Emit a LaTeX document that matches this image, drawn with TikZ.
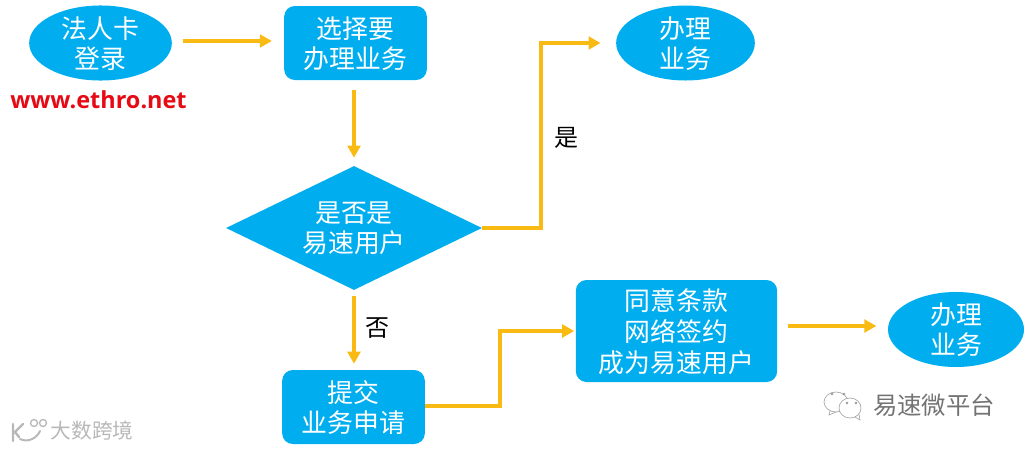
\documentclass[tikz,border=0pt]{standalone}
\usepackage{fontspec}
\setmainfont{Noto Sans CJK SC}
\newfontfamily\urlfont{Open Sans}
\usetikzlibrary{shapes.geometric,arrows.meta,positioning}
\definecolor{boxblue}{RGB}{0,174,239}
\definecolor{flowgold}{RGB}{250,186,20}
\definecolor{urlred}{RGB}{230,10,20}

\begin{document}
\begin{tikzpicture}[x=0.75pt, y=-0.75pt]
    \tikzset{
        oval/.style={
            ellipse, fill=boxblue, text=white, align=center, inner sep=0pt,
            minimum width=107pt, minimum height=55.5pt, text depth=1pt,
            font=\fontsize{19.4pt}{22.5pt}\selectfont
        },
        card/.style={
            fill=boxblue, text=white, align=center, inner sep=0pt,
            rounded corners=8pt, text depth=1pt,
            minimum width=107pt, minimum height=55.5pt,
            font=\fontsize{19.4pt}{22.5pt}\selectfont
        },
        choice/.style={
            diamond, aspect=2, fill=boxblue, text=white, align=center, inner sep=0pt,
            minimum width=192pt, minimum height=93pt, text depth=1pt,
            font=\fontsize{19.4pt}{22.5pt}\selectfont
        },
        flow/.style={
            draw=flowgold, line width=3pt,
            -{Triangle[length=9pt,width=9.5pt]}
        },
        tag/.style={font=\fontsize{18pt}{20pt}\selectfont},
        mark text/.style={text=black!55},
    }
    \useasboundingbox (0,0) rectangle (1029,450);

    % ==== Top row ====
    \node[oval] (login) at (100.5,43) {法人卡\\登录};
    \node[card] (select) at (355.5,43) {选择要\\办理业务};
    \node[oval, minimum width=104pt] (doneA) at (685.5,43) {办理\\业务};
    \node[inner sep=0pt, text=urlred, font=\urlfont\bfseries\fontsize{17.6pt}{19pt}\selectfont] (site) at (98.5,100) {www.ethro.net};

    % ==== Middle ====
    \node[choice] (judge) at (354,228) {是否是\\易速用户};
    \coordinate (bendA) at (541,228);

    % ==== Bottom row ====
    \node[card] (apply) at (353.5,407) {提交\\业务申请};
    \node[card, minimum width=151pt, minimum height=76.5pt,
        font=\fontsize{19.4pt}{23.25pt}\selectfont] (agree) at (676.5,331) {同意条款\\网络签约\\成为易速用户};
    \node[oval, minimum width=102pt, minimum height=56pt] (doneB) at (956,329.5) {办理\\业务};
    \coordinate (bendB) at (500,406);

    % ==== Arrows ====
    \draw[flow, shorten <=8.25pt, shorten >=9pt] (login.east |- 0,41) -- (select.west |- 0,41);
    \draw[flow, shorten <=7.5pt, shorten >=6pt] (judge |- select.south) -- (judge);
    \draw[flow, shorten >=11.5pt] (judge.east) -- (bendA) |- (doneA.west);
    \draw[flow, shorten <=4.5pt, shorten >=4.5pt] (judge) -- (judge |- apply.north);
    \draw[flow, shorten >=1pt] (apply.east |- bendB) -- (bendB) |- (agree.west);
    \draw[flow, shorten <=8.25pt, shorten >=8.5pt] (agree.east |- 0,326) -- (doneB.west |- 0,326);

    % ==== Branch labels ====
    \node[tag] (yes) at (566,138) {是};
    \node[tag] (no) at (377,328) {否};

    % ==== Watermarks ====
    \node[mark text, font=\fontsize{18.3pt}{20pt}\selectfont] (brand) at (934,405) {易速微平台};
    \node[text=black!28, font=\fontsize{15.5pt}{18pt}\selectfont] (seller) at (92,431) {大数跨境};
    % chat icon
    \draw[black!35, line width=0.5pt, fill=white] (836,402) ellipse (12 and 10);
    \draw[black!35, line width=0.5pt] (830,411) -- (829,415) -- (836,412);
    \draw[black!35, line width=0.5pt, fill=white] (850,408) ellipse (11 and 10);
    \draw[black!35, line width=0.5pt] (855,417) -- (860,420) -- (859,414);
    \fill[black!40] (832,394) circle (1.3) (844,394) circle (1.3) (847,403) circle (1.3) (856,403) circle (1.3);
    % logo of the lower left mark
    \draw[black!28, line width=1.8pt, line cap=round]
        (13,424) -- (13,441) (23,424) -- (15,432) -- (19,437);
    \draw[black!28, line width=1.5pt, line cap=round] (20,439) .. controls (28,443) and (37,438) .. (40,431);
    \draw[black!28, line width=1pt] (34,423) circle (3.5) (43,423) circle (3.5);
\end{tikzpicture}
\end{document}
